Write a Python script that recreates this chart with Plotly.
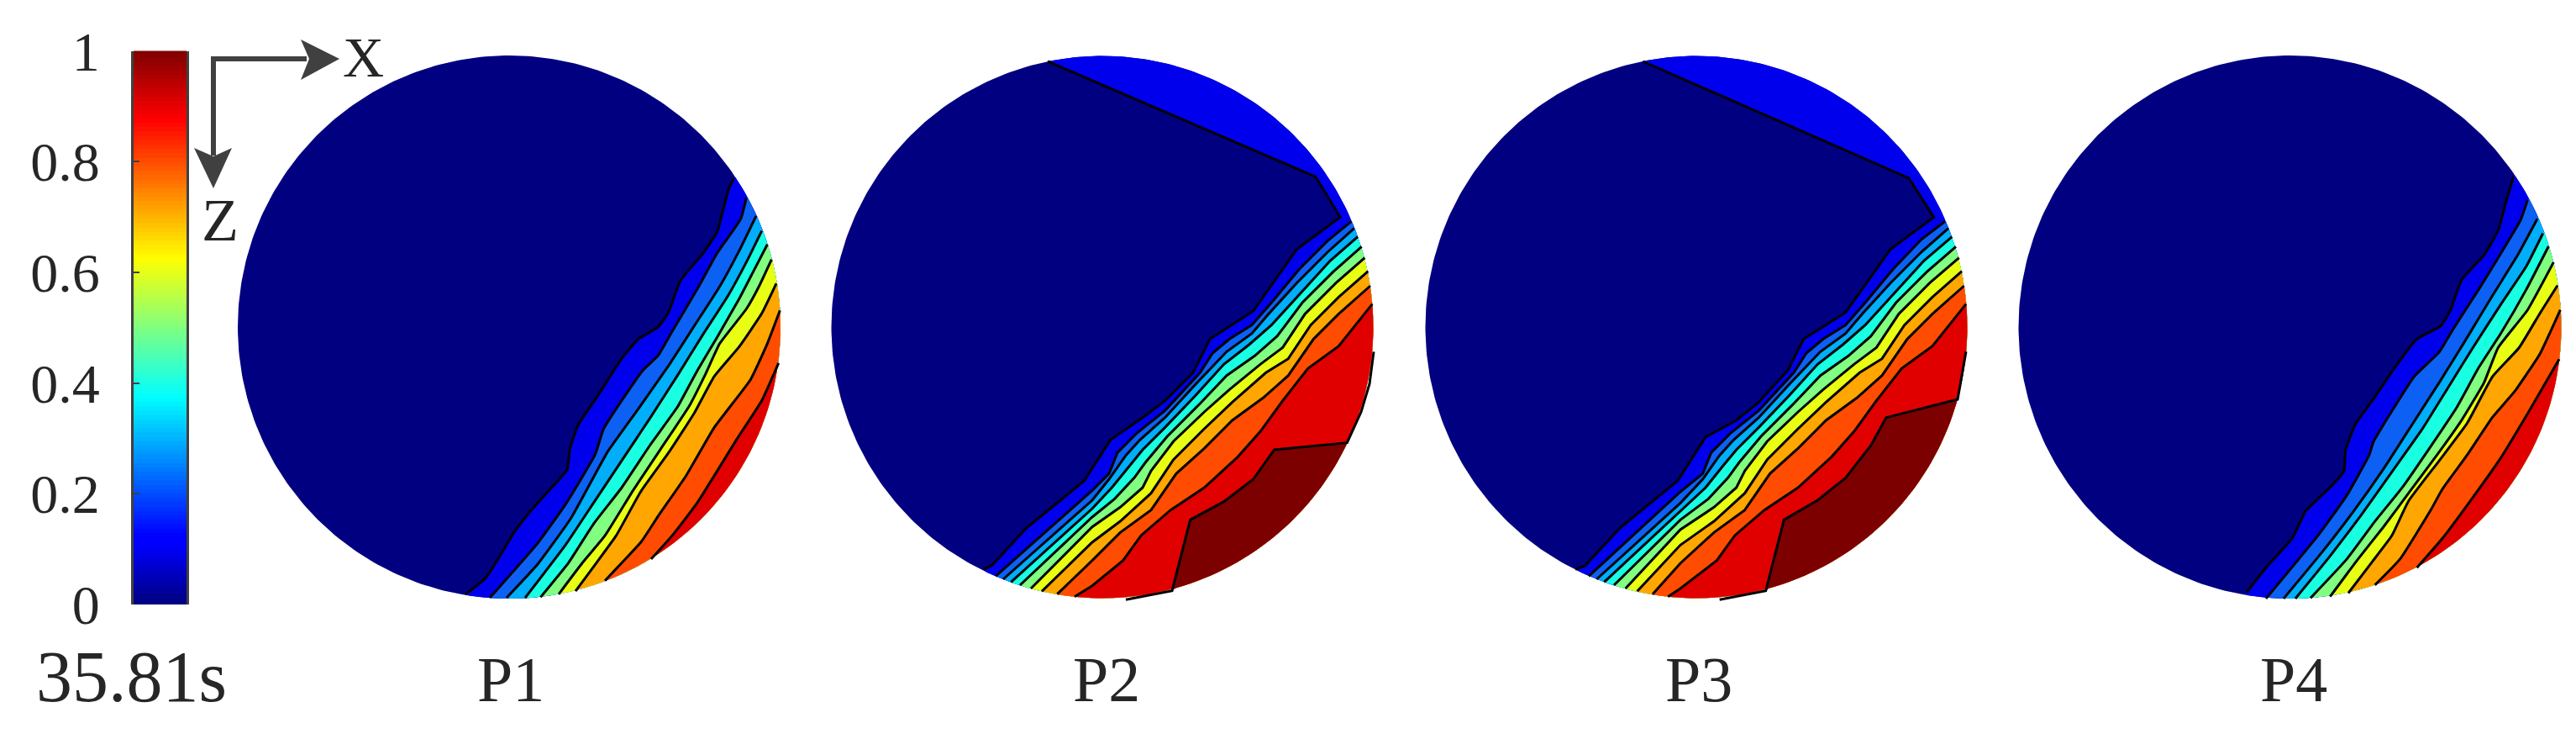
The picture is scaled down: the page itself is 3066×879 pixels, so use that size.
import numpy as np
import plotly.graph_objects as go

FONT = "Liberation Serif"
TXT = "#262626"
GREY = "#404040"

# ---------- colour scale ----------
JET = [[0, "#00007F"], [0.11, "#0000FF"], [0.125, "#0000FF"], [0.375, "#00FFFF"],
       [0.625, "#FFFF00"], [0.875, "#FF0000"], [1, "#7F0000"]]
CBAR_LEVELS = list(np.linspace(0, 1, 128))
CBAR_TICKS = [0, 0.2, 0.4, 0.6, 0.8, 1]
CBAR_LABELS = ["0", "0.2", "0.4", "0.6", "0.8", "1"]

DISC_COLOUR = "#000080"
BAND_COLOURS = ["#0000EC", "#0C60F4", "#00AEFA", "#18FFE2", "#80FF80",
                "#E8FF14", "#FFA600", "#FF4C00", "#E00000"]
TOP_COLOUR = "#7C0000"

LABELS = ["P1", "P2", "P3", "P4"]
LABEL_X = [608, 1317, 2022, 2730]
# disc centre x, centre y, radius
DISCS = [(606, 389, 323), (1312, 389, 322.5), (2019, 389, 322.5), (2725.5, 389, 323)]
# read-off frames: x0, y0, scale x, scale y
FRAMES = [(640, 180, 3, 2.8), (1300, 230, 3, 3), (2000, 230, 3, 3), (2760, 200, 3, 2.904)]

P1_LINES = [
    [(-258,1476),(-184,1419),(-84,1269),(-27,1199),(40,1130),(105,1060),(115,990),(145,910),(210,820),(300,690),(360,625),(430,585),(465,540),(510,430),(590,340),(640,270),(680,130),(700,90)],
    [(-171,1487),(0,1305),(100,1175),(205,1010),(235,925),(300,830),(375,730),(430,680),(480,600),(575,450),(640,340),(725,225),(745,155)],
    [(-111,1487),(0,1375),(120,1220),(250,1000),(350,870),(470,710),(560,580),(650,450),(720,330),(780,215)],
    [(-45,1487),(100,1310),(200,1170),(300,1030),(400,890),(500,745),(590,610),(680,480),(750,360),(800,265)],
    [(10,1485),(110,1370),(200,1240),(300,1120),(400,980),(500,850),(570,730),(640,620),(720,490),(770,400),(820,310)],
    [(75,1475),(160,1370),(240,1280),(340,1130),(440,990),(540,850),(600,740),(650,640),(745,525),(790,450),(835,360)],
    [(135,1465),(210,1370),(280,1280),(370,1130),(470,1000),(560,870),(630,750),(720,650),(800,540),(852,440)],
    [(240,1430),(370,1300),(430,1215),(530,1080),(630,920),(760,760),(820,640),(865,530)],
    [(405,1358),(480,1280),(570,1170),(710,960),(800,830),(860,705)],
]
P2_LINES = [
    [(-387,1342),(-359,1328),(-235,1194),(-29,1026),(65,880),(180,800),(260,740),(360,640),(420,520),(575,420),(730,200),(885,85),(798,-59),(-159,-471)],
    [(-345,1366),(0,1060),(60,1000),(90,925),(160,855),(260,775),(385,640),(430,570),(490,520),(570,470),(640,390),(740,270),(840,170),(925,100)],
    [(-318,1377),(0,1095),(60,1020),(120,935),(170,880),(260,800),(370,680),(480,565),(570,500),(630,430),(730,320),(840,210),(935,125)],
    [(-290,1387),(0,1125),(70,1050),(130,975),(180,915),(260,835),(370,720),(470,610),(560,540),(640,470),(740,360),(850,240),(948,155)],
    [(-258,1398),(0,1155),(80,1090),(150,1015),(190,960),(270,865),(380,755),(480,650),(580,580),(660,510),(750,390),(860,280),(962,190)],
    [(-219,1410),(0,1190),(100,1120),(180,1050),(210,990),(290,885),(400,780),(490,700),(600,610),(680,550),(760,430),(870,320),(973,230)],
    [(-180,1420),(0,1245),(100,1170),(210,1070),(290,950),(400,840),(500,745),(620,640),(700,590),(780,470),(880,370),(985,278)],
    [(-125,1430),(0,1310),(100,1210),(210,1130),(300,1000),(400,910),(500,810),(610,730),(700,650),(790,520),(880,430),(993,330)],
    [(-63,1439),(0,1400),(110,1310),(175,1220),(280,1130),(400,1050),(520,940),(600,850),(680,740),(770,625),(880,545),(1000,395)],
]
P2_TOP_IN = [(120,1450)]
P2_TOP = [(285,1418),(350,1165),(470,1100),(575,1020),(650,915),(910,890)]
P2_TOP_OUT = [(960,780),(990,680),(1005,565)]
P3_LINES = [
    [(-375,1342),(-340,1328),(-216,1194),(-10,1026),(90,870),(200,810),(280,745),(385,630),(440,520),(590,425),(750,200),(905,85),(816,-54),(-134,-471)],
    [(-327,1366),(0,1065),(80,1000),(110,925),(180,855),(280,775),(405,640),(450,570),(510,520),(590,470),(660,390),(760,270),(860,165),(945,100)],
    [(-299,1377),(0,1105),(80,1020),(140,935),(190,880),(280,800),(390,680),(500,565),(590,500),(650,430),(750,320),(860,210),(957,125)],
    [(-272,1387),(0,1135),(90,1050),(150,975),(200,915),(280,835),(390,720),(490,610),(580,540),(660,470),(760,360),(870,240),(970,155)],
    [(-237,1398),(0,1165),(100,1090),(170,1015),(210,960),(290,865),(400,755),(500,650),(600,580),(680,510),(770,390),(880,280),(984,190)],
    [(-196,1410),(0,1200),(120,1120),(200,1050),(230,990),(310,885),(420,780),(510,700),(620,610),(700,550),(780,430),(890,320),(995,230)],
    [(-154,1420),(0,1255),(120,1170),(230,1070),(310,950),(420,840),(520,745),(640,640),(720,590),(800,470),(900,370),(1005,278)],
    [(-99,1430),(0,1320),(120,1210),(230,1130),(320,1000),(420,910),(520,810),(630,730),(720,650),(810,520),(900,430),(1013,330)],
    [(-44,1439),(0,1410),(130,1310),(195,1220),(300,1130),(420,1050),(540,940),(620,850),(700,740),(790,625),(900,545),(1020,395)],
]
P3_TOP_IN = [(140,1450)]
P3_TOP = [(305,1418),(370,1165),(490,1095),(590,1015),(680,900),(735,800),(990,735)]
P3_TOP_OUT = [(1005,650),(1020,565)]
P4_LINES = [
    [(-258,1465),(-189,1380),(-93,1275),(-48,1185),(48,1095),(90,1045),(95,975),(130,885),(200,790),(270,690),(350,590),(435,545),(470,490),(510,385),(590,300),(640,215),(670,110),(695,30)],
    [(-189,1487),(0,1265),(100,1130),(180,990),(195,945),(260,840),(340,720),(430,635),(480,555),(570,420),(640,310),(720,180),(745,110)],
    [(-126,1487),(0,1340),(120,1190),(230,1040),(330,890),(430,740),(520,600),(620,440),(710,300),(780,175)],
    [(-84,1487),(40,1340),(150,1200),(260,1050),(370,900),(460,760),(550,620),(650,470),(740,340),(800,225)],
    [(-30,1485),(100,1350),(200,1220),(300,1100),(400,960),(490,830),(570,690),(650,570),(740,420),(820,270)],
    [(40,1480),(140,1350),(230,1240),(330,1110),(430,980),(510,870),(590,740),(640,620),(745,490),(838,325)],
    [(105,1468),(190,1360),(260,1270),(320,1150),(430,1010),(530,880),(620,720),(715,620),(790,500),(852,405)],
    [(200,1440),(290,1350),(400,1180),(440,1110),(530,990),(620,860),(700,770),(790,640),(862,490)],
    [(350,1380),(440,1280),(540,1150),(650,1000),(750,840),(858,660)],
]
PANELS = [
    (P1_LINES, None, None, None, "spline"),
    (P2_LINES, P2_TOP_IN, P2_TOP, P2_TOP_OUT, "linear"),
    (P3_LINES, P3_TOP_IN, P3_TOP, P3_TOP_OUT, "linear"),
    (P4_LINES, None, None, None, "spline"),
]

fig = go.Figure()


def to_xy(points, frame):
    x0, y0, sx, sy = frame
    return [x0 + p[0] / sx for p in points], [y0 + p[1] / sy for p in points]


def arc(disc, a0, a1):
    cx, cy, r = disc
    t = np.radians(np.arange(a0, a1, 1.0))
    return list(cx + r * np.cos(t)), list(cy + r * np.sin(t))


def angle(disc, x, y):
    return np.degrees(np.arctan2(y - disc[1], x - disc[0]))


def band(xs, ys, disc, colour):
    """Region on the right of a contour: contour + rim arc back to its start."""
    a_end = angle(disc, xs[-1], ys[-1])
    a_start = angle(disc, xs[0], ys[0])
    if a_start < a_end:
        a_start += 360
    ax, ay = arc(disc, a_end, a_start)
    fig.add_trace(go.Scatter(x=xs + ax, y=ys + ay, mode="lines", fill="toself",
                             fillcolor=colour, line=dict(width=0), hoverinfo="skip",
                             showlegend=False))


def contour(xs, ys, shape):
    line = dict(color="black", width=3, shape=shape)
    if shape == "spline":
        line["smoothing"] = 0.4
    fig.add_trace(go.Scatter(x=xs, y=ys, mode="lines", hoverinfo="skip", showlegend=False, line=line))


for disc, frame, (lines, top_in, top, top_out, shape), label, lx in zip(DISCS, FRAMES, PANELS, LABELS, LABEL_X):
    ax, ay = arc(disc, 0, 361)
    fig.add_trace(go.Scatter(x=ax, y=ay, mode="lines", fill="toself", fillcolor=DISC_COLOUR,
                             line=dict(width=0), hoverinfo="skip", showlegend=False))
    for pts, colour in zip(lines, BAND_COLOURS):
        xs, ys = to_xy(pts, frame)
        band(xs, ys, disc, colour)
    if top:
        xs, ys = to_xy(top, frame)
        band(xs, ys, disc, TOP_COLOUR)
    for pts in lines:
        xs, ys = to_xy(pts, frame)
        contour(xs, ys, shape)
    if top:
        xs, ys = to_xy(top_in + top + top_out, frame)
        contour(xs, ys, shape)
    fig.add_annotation(x=lx, y=808, text=label, showarrow=False,
                       font=dict(family=FONT, size=76, color=TXT))

# ---------- colour bar ----------
fig.add_trace(go.Heatmap(z=[[v] for v in CBAR_LEVELS], y=CBAR_LEVELS, x=[0], colorscale=JET,
                         zmin=0, zmax=1, showscale=False, hoverinfo="skip",
                         xaxis="x2", yaxis="y2"))

# ---------- direction arrows ----------
shapes = [
    dict(type="line", x0=254, y0=70, x1=365, y1=70, line=dict(color=GREY, width=6)),
    dict(type="line", x0=254, y0=67, x1=254, y1=185, line=dict(color=GREY, width=6)),
    dict(type="path", path="M404,70 L358,47 L368,70 L358,95 Z", fillcolor=GREY, line=dict(width=0)),
    dict(type="path", path="M254,224 L231,176 L254,186 L276,176 Z", fillcolor=GREY, line=dict(width=0)),
]
for txt, x, y, size in [("X", 432, 68, 68), ("Z", 262, 262, 72), ("35.81s", 156, 805, 86)]:
    fig.add_annotation(x=x, y=y, text=txt, showarrow=False, font=dict(family=FONT, size=size, color=TXT))

W, H = 3066, 879
fig.update_layout(
    template="none",
    width=W, height=H, margin=dict(l=0, r=0, t=0, b=0, pad=0, autoexpand=False),
    paper_bgcolor="white", plot_bgcolor="white",
    shapes=shapes,
    xaxis=dict(range=[0, W], visible=False, domain=[0, 1], automargin=False),
    yaxis=dict(range=[H, 0], visible=False, domain=[0, 1], automargin=False),
    xaxis2=dict(domain=[159 / W, 222 / W], visible=False, anchor="y2", automargin=False),
    yaxis2=dict(domain=[(H - 719) / H, (H - 60.5) / H], anchor="x2", range=[0, 1], side="left",
                automargin=False,
                tickmode="array", tickvals=CBAR_TICKS, ticktext=CBAR_LABELS, ticks="inside", ticklen=7,
                tickcolor=GREY, tickwidth=2, showline=True, mirror=True, linecolor=GREY, linewidth=3,
                ticklabelstandoff=24, showgrid=False, zeroline=False,
                tickfont=dict(family=FONT, size=66, color=TXT)),
)
fig.write_html("out.html", config={"displayModeBar": False},
               post_script="document.body.style.margin='0';")
